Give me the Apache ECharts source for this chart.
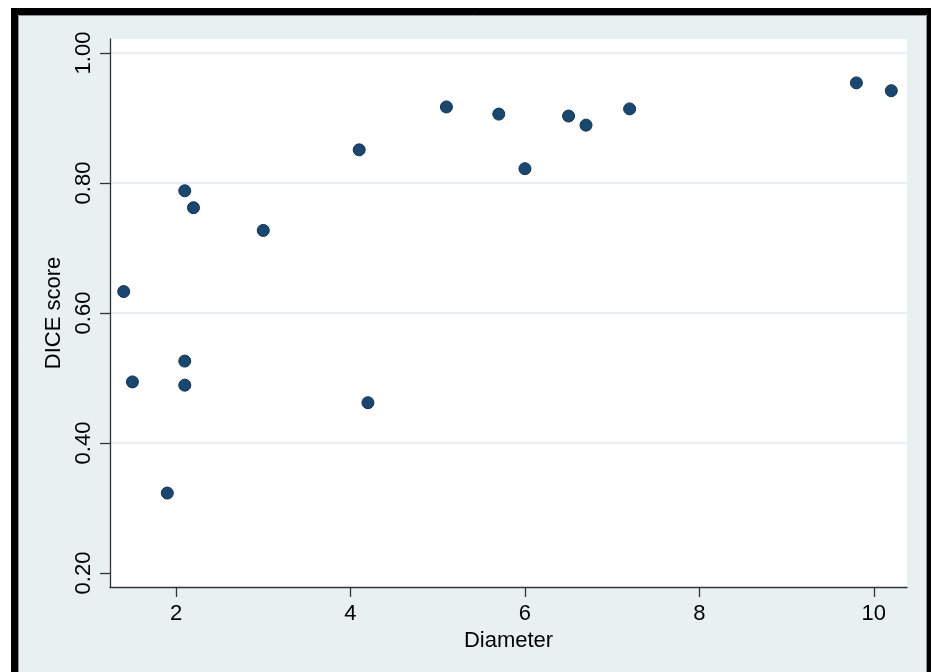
<!DOCTYPE html>
<html>
<head>
<meta charset="utf-8">
<script src="https://cdn.jsdelivr.net/npm/echarts@6/dist/echarts.min.js"></script>
<style>
html,body{margin:0;padding:0;background:#fff;}
#chart{width:933px;height:672px;}
</style>
</head>
<body>
<div id="chart"></div>
<script>
// Data
const diameter = [1.4, 1.5, 1.9, 2.1, 2.1, 2.1, 2.2, 3.0, 4.1, 4.2, 5.1, 5.7, 6.0, 6.5, 6.7, 7.2, 9.8, 10.2];
const diceScore = [0.633, 0.494, 0.323, 0.788, 0.526, 0.489, 0.762, 0.727, 0.851, 0.462, 0.917, 0.906, 0.822, 0.903, 0.889, 0.914, 0.954, 0.942];
const xTicks = [2, 4, 6, 8, 10];
const yTicks = [0.2, 0.4, 0.6, 0.8, 1.0];
const yTickLabels = ['0.20', '0.40', '0.60', '0.80', '1.00'];

const points = diameter.map((d, i) => [d, diceScore[i]]);
const FONT = "'Liberation Sans', Arial, Helvetica, sans-serif";

const chart = echarts.init(document.getElementById('chart'), null, {renderer: 'canvas'});
chart.setOption({
  backgroundColor: '#ffffff',
  animation: false,
  graphic: [
    {type: 'rect', z: -10, silent: true,
     shape: {x: 11, y: 8, width: 920, height: 700},
     style: {fill: '#000'}},
    {type: 'rect', z: -9, silent: true,
     shape: {x: 18, y: 15, width: 909, height: 700},
     style: {fill: '#e8f0f2'}},
    {type: 'rect', z: -8, silent: true,
     shape: {x: 18.5, y: 15.5, width: 908, height: 700},
     style: {fill: 'none', stroke: '#8c9296', lineWidth: 1}}
  ],
  grid: {
    left: 110, right: 26, top: 39, bottom: 85,
    show: true, backgroundColor: '#ffffff', borderWidth: 0
  },
  xAxis: {
    type: 'value',
    min: 1.243, max: 10.38,
    name: 'Diameter',
    nameLocation: 'middle',
    nameGap: 36,
    nameTextStyle: {fontFamily: FONT, fontSize: 22, color: '#000'},
    axisLine: {show: true, onZero: false, lineStyle: {color: '#333', width: 1.3}},
    axisTick: {show: true, length: 10, customValues: xTicks, lineStyle: {color: '#333', width: 1.3}},
    axisLabel: {customValues: xTicks, margin: 16, fontFamily: FONT, fontSize: 22, color: '#000'},
    splitLine: {show: false}
  },
  yAxis: {
    type: 'value',
    min: 0.1785, max: 1.0215,
    name: 'DICE score',
    nameLocation: 'middle',
    nameGap: 39,
    nameTextStyle: {fontFamily: FONT, fontSize: 22, color: '#000'},
    axisLine: {show: true, onZero: false, lineStyle: {color: '#333', width: 1.3}},
    axisTick: {show: true, length: 10, customValues: yTicks, lineStyle: {color: '#333', width: 1.3}},
    axisLabel: {
      customValues: yTicks, rotate: 90, margin: 15,
      fontFamily: FONT, fontSize: 22, color: '#000',
      formatter: v => yTickLabels[yTicks.findIndex(t => Math.abs(t - v) < 1e-6)] ?? v.toFixed(2)
    },
    splitLine: {show: true, lineStyle: {color: ['rgba(0,0,0,0)', '#dce9ef', '#dce9ef', '#dce9ef', '#dce9ef'], width: 1.6}}
  },
  series: [{
    type: 'scatter',
    data: points,
    symbol: 'circle',
    symbolSize: 12,
    itemStyle: {color: '#1a476f', borderColor: '#10314f', borderWidth: 1, opacity: 1}
  }]
});
</script>
</body>
</html>
